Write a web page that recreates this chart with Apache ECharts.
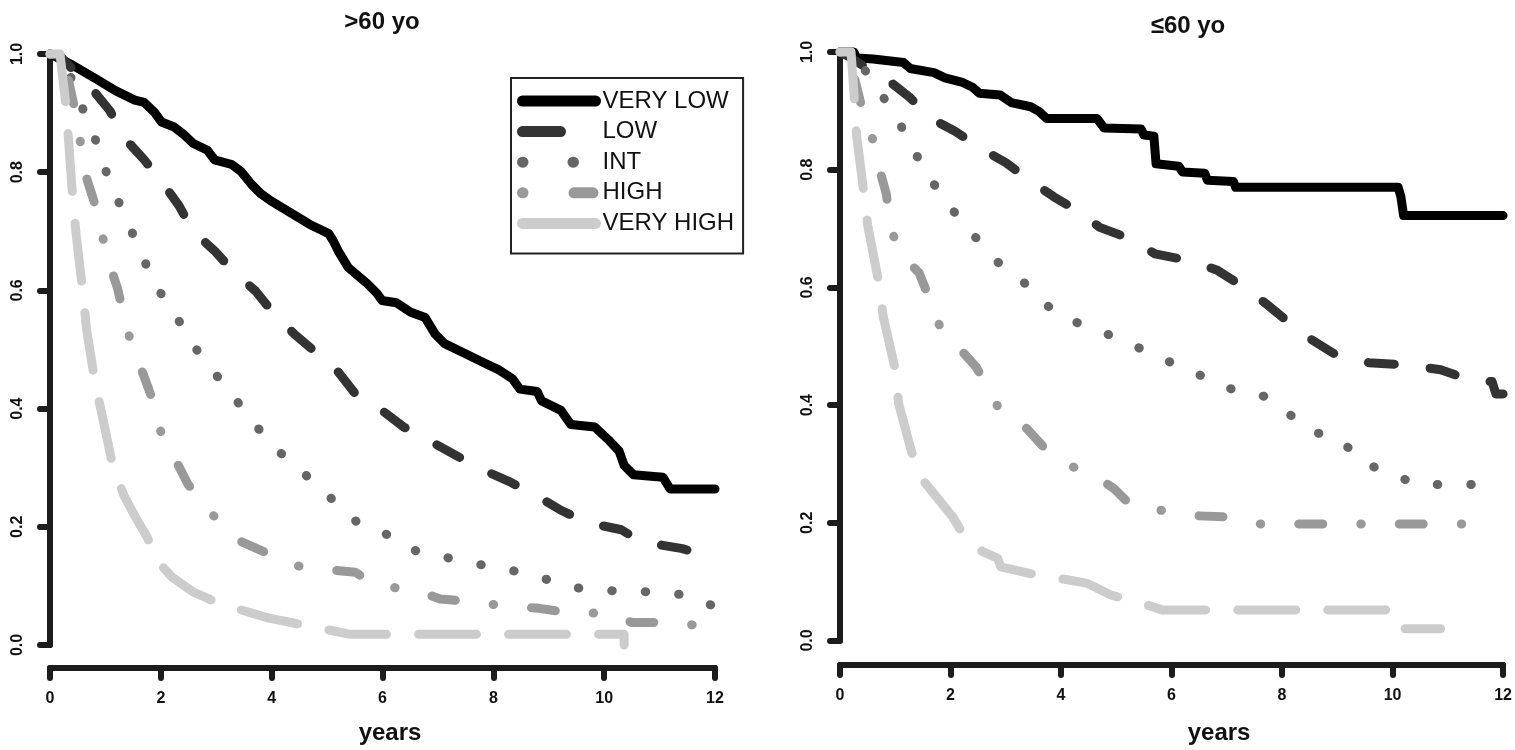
<!DOCTYPE html>
<html>
<head>
<meta charset="utf-8">
<script src="https://cdn.jsdelivr.net/npm/echarts@6/dist/echarts.min.js"></script>
<style>
html,body{margin:0;padding:0;background:#fff;}
#chart{width:1515px;height:750px;}
</style>
</head>
<body>
<div id="chart"></div>
<script>
// ---------- DATA (time in years, survival probability) ----------
const seriesNames = ['VERY LOW', 'LOW', 'INT', 'HIGH', 'VERY HIGH'];
const panelTitles = ['>60 yo', '\u226460 yo'];

// >60 yo
const old_veryLow = [[0,1],[0.39,0.982],[0.83,0.958],[1.18,0.938],[1.53,0.922],[1.70,0.918],[1.88,0.902],[2.01,0.885],[2.23,0.877],[2.40,0.865],[2.58,0.849],[2.84,0.837],[2.97,0.821],[3.28,0.813],[3.45,0.801],[3.63,0.780],[3.80,0.764],[3.98,0.752],[4.33,0.732],[4.68,0.712],[5.03,0.696],[5.11,0.684],[5.20,0.667],[5.38,0.639],[5.73,0.611],[5.90,0.595],[5.99,0.583],[6.25,0.579],[6.51,0.563],[6.77,0.554],[6.95,0.526],[7.12,0.510],[7.47,0.494],[7.82,0.478],[8.09,0.466],[8.35,0.450],[8.48,0.433],[8.79,0.429],[8.87,0.413],[9.22,0.397],[9.40,0.373],[9.83,0.369],[10.10,0.345],[10.27,0.328],[10.36,0.304],[10.53,0.288],[11.06,0.284],[11.19,0.264],[12.0,0.264]];
const old_low = [[0,1],[0.2,0.995],[0.45,0.97],[0.74,0.943],[1.08,0.904],[1.35,0.857],[1.70,0.821],[2.01,0.785],[2.33,0.743],[2.58,0.700],[2.97,0.667],[3.32,0.631],[3.71,0.599],[4.02,0.563],[4.41,0.526],[4.81,0.494],[5.20,0.462],[5.51,0.425],[5.99,0.397],[6.38,0.369],[6.86,0.345],[7.34,0.320],[7.82,0.296],[8.30,0.276],[8.79,0.252],[9.22,0.228],[9.70,0.207],[10.31,0.195],[10.66,0.175],[11.41,0.163],[12.0,0.147]];
const old_int = [[0,1],[0.1,1],[0.37,0.962],[0.57,0.912],[0.79,0.864],[0.96,0.813],[1.18,0.763],[1.40,0.714],[1.64,0.667],[1.84,0.617],[2.14,0.576],[2.43,0.533],[2.71,0.490],[3.04,0.452],[3.37,0.413],[3.69,0.375],[4.00,0.337],[4.41,0.306],[4.79,0.272],[5.17,0.240],[5.55,0.207],[6.08,0.187],[6.53,0.161],[7.10,0.149],[7.71,0.137],[8.30,0.127],[8.89,0.113],[9.46,0.097],[10.11,0.092],[10.81,0.090],[11.45,0.085],[12.0,0.065]];
const old_high = [[0,1],[0.2,1],[0.30,0.97],[0.44,0.91],[0.54,0.857],[0.61,0.805],[0.79,0.752],[0.92,0.702],[1.05,0.651],[1.22,0.603],[1.35,0.550],[1.49,0.502],[1.70,0.454],[1.88,0.407],[2.01,0.357],[2.25,0.316],[2.49,0.272],[2.75,0.240],[3.10,0.203],[3.45,0.175],[3.93,0.155],[4.37,0.135],[4.94,0.128],[5.51,0.123],[5.90,0.100],[6.56,0.094],[7.04,0.078],[7.60,0.073],[8.23,0.066],[8.83,0.062],[9.40,0.054],[10.08,0.054],[10.50,0.038],[11.19,0.038],[11.80,0.032],[12.0,0.032]];
const old_veryHigh = [[0,1],[0.18,1],[0.28,0.92],[0.33,0.86],[0.41,0.756],[0.47,0.696],[0.59,0.599],[0.66,0.534],[0.81,0.446],[0.94,0.389],[1.14,0.300],[1.34,0.252],[1.55,0.215],[1.75,0.183],[1.97,0.139],[2.20,0.115],[2.58,0.090],[3.06,0.070],[3.50,0.058],[3.93,0.046],[4.46,0.036],[5.00,0.026],[5.42,0.018],[10.36,0.018],[10.36,0.0]];

// <=60 yo
const young_veryLow = [[0,1],[0.25,1],[0.30,0.99],[0.60,0.988],[1.15,0.982],[1.27,0.972],[1.70,0.965],[1.90,0.956],[2.20,0.949],[2.40,0.940],[2.52,0.930],[2.90,0.927],[3.10,0.914],[3.45,0.907],[3.60,0.899],[3.74,0.887],[4.65,0.887],[4.78,0.871],[5.45,0.869],[5.50,0.859],[5.68,0.857],[5.72,0.810],[6.13,0.806],[6.20,0.796],[6.60,0.794],[6.65,0.782],[7.12,0.780],[7.16,0.770],[10.10,0.770],[10.15,0.754],[10.20,0.722],[12.0,0.722]];
const young_low = [[0,1],[0.2,0.99],[0.43,0.976],[0.87,0.952],[1.26,0.923],[1.65,0.887],[2.09,0.865],[2.57,0.835],[3.00,0.812],[3.43,0.782],[3.87,0.754],[4.30,0.730],[4.70,0.702],[5.30,0.681],[5.70,0.657],[6.35,0.645],[6.83,0.629],[7.30,0.601],[7.70,0.573],[8.13,0.540],[8.52,0.512],[9.00,0.484],[9.57,0.472],[10.30,0.468],[10.87,0.460],[11.48,0.440],[11.80,0.440],[11.87,0.419],[12.0,0.419]];
const young_int = [[0,1],[0.15,1],[0.43,0.972],[0.74,0.930],[1.02,0.887],[1.30,0.844],[1.52,0.796],[1.85,0.758],[2.15,0.717],[2.50,0.680],[2.84,0.644],[3.26,0.615],[3.63,0.579],[4.02,0.548],[4.57,0.532],[5.07,0.511],[5.59,0.490],[6.09,0.468],[6.59,0.448],[7.09,0.427],[7.67,0.415],[8.10,0.387],[8.52,0.356],[9.07,0.341],[9.42,0.304],[9.93,0.285],[10.45,0.265],[12.0,0.265]];
const young_high = [[0,1],[0.2,1],[0.25,0.96],[0.41,0.90],[0.57,0.86],[0.70,0.806],[0.84,0.758],[0.91,0.700],[1.13,0.653],[1.43,0.625],[1.63,0.578],[1.83,0.528],[2.09,0.504],[2.46,0.465],[2.72,0.423],[2.91,0.387],[3.37,0.361],[3.70,0.327],[4.00,0.302],[4.55,0.284],[4.96,0.258],[5.26,0.230],[5.89,0.220],[6.43,0.212],[7.02,0.210],[7.61,0.198],[11.9,0.198]];
const young_veryHigh = [[0,1],[0.2,1],[0.26,0.92],[0.30,0.859],[0.43,0.762],[0.50,0.706],[0.70,0.609],[0.78,0.552],[1.00,0.460],[1.06,0.403],[1.30,0.319],[1.52,0.270],[2.04,0.210],[2.30,0.169],[2.60,0.150],[2.85,0.140],[2.91,0.125],[3.48,0.113],[4.00,0.105],[4.48,0.097],[4.91,0.077],[5.40,0.065],[5.83,0.052],[9.90,0.052],[9.95,0.040],[10.04,0.020],[10.87,0.020]];

// ---------- STYLES ----------
const FONT = "'Liberation Sans', Arial, Helvetica, sans-serif";
const AX = '#1c1c1c';
const colors = ['#000000', '#333333', '#666666', '#999999', '#cccccc'];
const dashes = ['solid', [26, 36], [0.5, 33], [0.5, 38, 24, 38], [58, 32]];
const legendDashes = ['solid', [38, 60], [0.5, 50], [0.5, 51, 19, 50], [80, 20]];
const LW = 9;

const panels = [
  [old_veryLow, old_low, old_int, old_high, old_veryHigh],
  [young_veryLow, young_low, young_int, young_high, young_veryHigh]
];

const grids = [
  {left: 50, top: 54, width: 665, height: 593},
  {left: 840, top: 52, width: 665, height: 591.5}
];
const xOffsets = [23, 24.5];
const nameGaps = [53, 56];
const namePadLeft = [15, 95];

function xAxisCfg(i) {
  return {
    gridIndex: i, type: 'value', min: 0, max: 12, interval: 2, offset: xOffsets[i],
    axisLine: {show: true, onZero: false, lineStyle: {color: AX, width: 6, cap: 'round'}},
    axisTick: {show: true, length: 10, lineStyle: {color: AX, width: 6, cap: 'round'}},
    axisLabel: {margin: 23, fontSize: 16, fontWeight: 'bold', color: '#111', fontFamily: FONT},
    splitLine: {show: false},
    name: 'years', nameLocation: 'middle', nameGap: nameGaps[i],
    nameTextStyle: {fontSize: 24, fontWeight: 'bold', color: '#111', fontFamily: FONT, padding: [0, 0, 0, namePadLeft[i]]}
  };
}
function yAxisCfg(i) {
  return {
    gridIndex: i, type: 'value', min: 0, max: 1, interval: 0.2,
    axisLine: {show: true, onZero: false, lineStyle: {color: AX, width: 6, cap: 'round'}},
    axisTick: {show: true, length: 10, lineStyle: {color: AX, width: 6, cap: 'round'}},
    axisLabel: {rotate: 90, margin: 24, fontSize: 16, fontWeight: 'bold', color: '#111', fontFamily: FONT,
      formatter: v => v.toFixed(1)},
    splitLine: {show: false}
  };
}

const series = [];
panels.forEach((p, pi) => {
  p.forEach((data, k) => {
    series.push({
      name: seriesNames[k], type: 'line', xAxisIndex: pi, yAxisIndex: pi,
      data: data, showSymbol: false, symbol: 'none', clip: false, animation: false,
      lineStyle: {color: colors[k], width: LW, type: dashes[k], cap: 'round', join: 'round'},
      itemStyle: {color: colors[k]},
      z: 2 + k
    });
  });
});

const chart = echarts.init(document.getElementById('chart'), null, {renderer: 'canvas'});
chart.setOption({
  animation: false,
  backgroundColor: '#ffffff',
  title: [
    {text: panelTitles[0], left: 382, top: 10, textAlign: 'center', padding: 0,
     textStyle: {fontSize: 24, fontWeight: 'bold', color: '#111', fontFamily: FONT}},
    {text: panelTitles[1], left: 1188, top: 14, textAlign: 'center', padding: 0,
     textStyle: {fontSize: 24, fontWeight: 'bold', color: '#111', fontFamily: FONT}}
  ],
  legend: {
    left: 511, top: 78, orient: 'vertical', selectedMode: false,
    padding: [11, 9, 18, 6],
    borderColor: '#222', borderWidth: 2,
    itemWidth: 73, itemHeight: 24, itemGap: 6.6,
    textStyle: {fontSize: 24, color: '#111', fontFamily: FONT, lineHeight: 24, padding: [0, 0, 0, 2]},
    data: seriesNames.map((n, k) => ({
      name: n,
      itemStyle: {opacity: 0},
      lineStyle: {color: colors[k], width: 11, type: legendDashes[k], cap: 'round'}
    }))
  },
  grid: grids,
  xAxis: [xAxisCfg(0), xAxisCfg(1)],
  yAxis: [yAxisCfg(0), yAxisCfg(1)],
  series: series
});
</script>
</body>
</html>
